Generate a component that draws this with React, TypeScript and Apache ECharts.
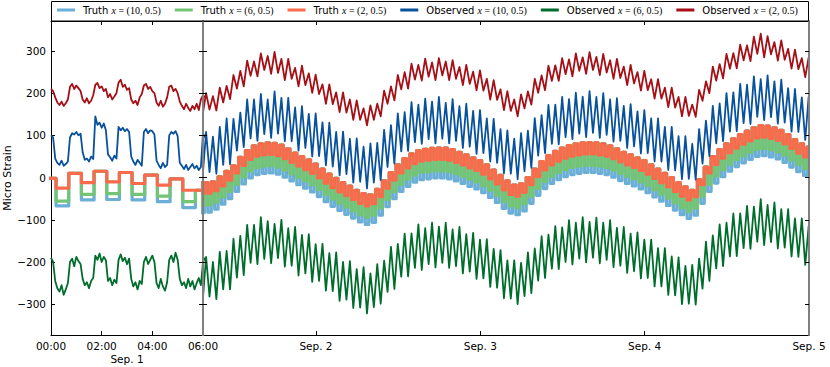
import React, { useEffect, useRef } from "react";
import * as echarts from "echarts";

// ---------- data ----------
// Truth: hourly plateaus. For hour k (starting at TRUTH_START_HOUR) the low phase is
// centred at k+0.45 h and the high phase at k+0.95 h (hours from Sep 1, 00:00).
const TRUTH_START_HOUR = -1;
const truthHigh = [
  -2, 10, 15, 12, 6, -3, -30, -12, -12, -10, 2, 15, 28, 48, 64, 75, 80, 82, 81, 77, 68, 58, 50, 42, 32, 20, 8, -2,
  -12, -20, -30, -38, -41, -28, -8, 12, 30, 45, 56, 64, 67, 69, 70, 70, 66, 60, 54, 47, 40, 30, 18, 5, -8, -18, -15,
  0, 20, 38, 52, 62, 70, 76, 80, 82, 83, 82, 80, 75, 68, 60, 54, 47, 40, 30, 20, 10, 0, -12, -22, -30, -5, 25, 50,
  66, 80, 92, 102, 110, 118, 123, 122, 118, 112, 102, 90, 80, 72,
];
const truthLowX2 = [
  -5, -25, -12, -10, -14, -18, -30, -40, -38, -37, -31, -20, -6, 11, 29, 43, 51, 54, 55, 52, 45, 36, 27, 19, 10, -1,
  -13, -24, -34, -43, -52, -61, -67, -62, -45, -25, -6, 11, 23, 33, 39, 41, 43, 43, 41, 36, 30, 23, 17, 8, -3, -15,
  -29, -40, -44, -35, -17, 2, 18, 30, 39, 46, 51, 54, 56, 56, 54, 51, 45, 37, 30, 24, 17, 8, -2, -12, -22, -33, -44,
  -53, -45, -17, 11, 31, 46, 59, 70, 79, 87, 94, 96, 93, 88, 80, 69, 58, 49,
];
const truthLowX6 = [
  -8, -56, -40, -38, -40, -44, -57, -68, -66, -65, -58, -46, -33, -16, 2, 16, 24, 27, 28, 25, 18, 9, 0, -8, -17, -28,
  -40, -51, -61, -70, -79, -88, -94, -89, -72, -52, -33, -16, -4, 6, 12, 14, 16, 16, 14, 9, 3, -4, -10, -19, -30,
  -42, -56, -67, -71, -62, -44, -25, -9, 3, 12, 19, 24, 27, 29, 29, 27, 24, 18, 10, 3, -3, -10, -19, -29, -39, -49,
  -60, -71, -80, -72, -44, -16, 4, 19, 32, 43, 52, 60, 67, 69, 66, 61, 53, 42, 31, 22,
];
const truthLowX10 = [
  -10, -67, -53, -52, -53, -57, -71, -85, -83, -82, -75, -63, -50, -33, -15, -1, 7, 10, 11, 8, 1, -8, -17, -25, -34,
  -45, -57, -68, -78, -87, -96, -105, -111, -106, -89, -69, -50, -33, -21, -11, -5, -3, -1, -1, -3, -8, -14, -21,
  -27, -36, -47, -59, -73, -84, -88, -79, -61, -42, -26, -14, -5, 2, 7, 10, 12, 12, 10, 7, 1, -7, -14, -20, -27, -36,
  -46, -56, -66, -77, -88, -97, -89, -61, -33, -13, 2, 15, 26, 35, 43, 50, 52, 49, 44, 36, 25, 14, 5,
];

// Observed, first 6 hours, one value every 5 minutes from 00:00
const LEFT_STEP_MIN = 5;
const leftObsX10 = [
  100, 95, 45, 35, 30, 40, 28, 32, 38, 95, 105, 102, 108, 100, 104, 60, 42, 45, 38, 50, 44, 145, 125, 130, 118, 128,
  112, 55, 48, 40, 52, 45, 120, 112, 118, 110, 115, 108, 50, 38, 30, 42, 35, 28, 108, 115, 105, 112, 110, 102, 40, 30,
  22, 35, 25, 30, 100, 108, 104, 110, 98, 35, 28, 20, 30, 18, 25, 32, 22, 28, 18, 25, 105, 95,
];
const leftObsX6 = [
  -190, -200, -245, -262, -270, -255, -278, -265, -250, -200, -192, -210, -188, -198, -205, -240, -255, -248, -262,
  -245, -238, -185, -195, -180, -200, -188, -196, -245, -238, -255, -242, -250, -195, -182, -198, -190, -205, -192,
  -240, -258, -248, -265, -245, -252, -200, -188, -205, -195, -185, -200, -250, -262, -240, -258, -268, -248, -195,
  -185, -200, -178, -195, -240, -255, -248, -262, -240, -258, -245, -265, -250, -238, -255, -200, -190,
];
const leftObsX2 = [
  210, 205, 190, 178, 172, 180, 170, 176, 185, 215, 222, 210, 218, 212, 205, 185, 178, 188, 176, 182, 195, 220, 224,
  212, 216, 205, 210, 190, 198, 185, 192, 200, 225, 232, 215, 220, 208, 212, 185, 176, 182, 172, 190, 198, 218, 222,
  210, 215, 205, 200, 178, 170, 182, 168, 175, 190, 215, 218, 205, 210, 200, 180, 170, 162, 175, 165, 158, 170, 162,
  175, 160, 185, 195, 190,
];

// Observed, rest of the record: per hour k (from RIGHT_START_HOUR) a low at k+0.45 h and a high at k+0.95 h
const RIGHT_START_HOUR = 7;
const rightObsX10High = [
  108, 97, 120, 140, 139, 154, 185, 185, 198, 185, 204, 189, 189, 166, 169, 151, 152, 131, 130, 108, 109, 92, 93, 73,
  81, 82, 113, 124, 152, 155, 179, 173, 187, 180, 191, 177, 186, 169, 175, 158, 160, 140, 139, 115, 112, 92, 105, 111,
  141, 148, 172, 173, 191, 186, 201, 192, 205, 191, 200, 185, 188, 170, 174, 157, 160, 140, 140, 120, 120, 98, 98, 80,
  115, 135, 170, 176, 200, 202, 222, 220, 240, 233, 242, 228, 232, 212, 210, 190, 192,
];
const rightObsX10Low = [
  3, 13, 9, 30, 32, 64, 72, 93, 87, 103, 94, 104, 86, 86, 64, 70, 50, 51, 29, 26, 5, 8, -12, -10, -26, -12, -6, 25,
  33, 62, 63, 84, 80, 91, 81, 92, 81, 87, 70, 73, 56, 58, 38, 35, 10, 9, -4, 15, 23, 52, 58, 80, 79, 96, 91, 104, 96,
  106, 94, 101, 85, 87, 70, 74, 57, 58, 38, 38, 18, 17, -4, -3, -5, 33, 51, 81, 86, 109, 110, 129, 127, 144, 136, 143,
  128, 130, 109, 108, 89,
];
const rightObsX6High = [
  -188, -200, -176, -174, -145, -138, -112, -112, -94, -103, -110, -100, -120, -117, -136, -134, -158, -157, -179,
  -177, -200, -198, -217, -212, -227, -205, -197, -164, -157, -133, -132, -111, -120, -107, -116, -107, -123, -117,
  -134, -131, -147, -146, -169, -172, -196, -196, -202, -177, -168, -139, -135, -115, -118, -101, -107, -94, -105, -95,
  -107, -101, -119, -117, -133, -130, -147, -147, -167, -167, -187, -189, -209, -207, -192, -152, -137, -111, -107,
  -85, -85, -67, -69, -51, -65, -59, -75, -75, -97, -97, -115,
];
const rightObsX6Low = [
  -294, -282, -288, -265, -265, -237, -231, -202, -205, -193, -203, -191, -211, -209, -232, -227, -247, -245, -268,
  -269, -292, -289, -309, -308, -322, -307, -299, -271, -264, -235, -234, -214, -219, -205, -213, -202, -214, -210,
  -227, -223, -240, -239, -259, -261, -286, -287, -300, -281, -274, -244, -238, -216, -217, -200, -206, -192, -201,
  -190, -203, -195, -212, -209, -226, -222, -239, -238, -258, -258, -278, -279, -300, -299, -301, -263, -245, -215,
  -210, -187, -186, -167, -169, -152, -160, -153, -168, -166, -187, -188, -207,
];
const rightObsX2High = [
  200, 193, 213, 217, 243, 253, 277, 275, 294, 288, 298, 281, 281, 260, 265, 247, 244, 221, 221, 202, 202, 185, 183,
  164, 171, 175, 206, 216, 243, 250, 270, 267, 282, 273, 283, 275, 278, 262, 267, 251, 254, 234, 231, 209, 205, 185,
  197, 204, 234, 242, 265, 266, 283, 280, 294, 285, 297, 286, 293, 278, 281, 263, 267, 250, 253, 233, 233, 213, 213,
  191, 191, 173, 208, 228, 263, 269, 293, 295, 315, 313, 334, 341, 335, 321, 325, 305, 303, 283, 285,
];
const rightObsX2Low = [
  149, 161, 159, 178, 186, 211, 216, 241, 240, 255, 246, 248, 231, 234, 216, 219, 201, 198, 175, 174, 155, 154, 137,
  137, 124, 137, 145, 175, 183, 209, 211, 232, 230, 239, 231, 242, 231, 234, 219, 222, 207, 206, 185, 184, 160, 158,
  145, 164, 173, 201, 207, 229, 229, 245, 240, 253, 246, 255, 243, 249, 234, 236, 219, 223, 206, 207, 187, 187, 167,
  166, 145, 146, 144, 182, 200, 230, 235, 258, 259, 278, 276, 293, 285, 292, 277, 279, 258, 257, 238,
];

const seriesNames = [
  "Truth (10, 0.5)",
  "Truth (6, 0.5)",
  "Truth (2, 0.5)",
  "Observed (10, 0.5)",
  "Observed (6, 0.5)",
  "Observed (2, 0.5)",
];
const yTickValues = [-300, -200, -100, 0, 100, 200, 300];
const leftTickHours = [0, 2, 4, 6];
const leftTickLabels = ["00:00", "02:00", "04:00", "06:00"];
const rightTickHours = [24, 48, 72, 96];
const rightTickLabels = ["Sep. 2", "Sep. 3", "Sep. 4", "Sep. 5"];
const leftDayLabel = "Sep. 1";

// ---------- styling ----------
const FONT = "DejaVu Sans";
const COLORS = ["#6baed6", "#74c476", "#fb6a4a", "#08519c", "#006d2c", "#a50f15"];
const GRAY = "#808080";

function truthPoints(low: number[]) {
  const pts: number[][] = [];
  for (let i = 0; i < truthHigh.length; i++) {
    const h = TRUTH_START_HOUR + i;
    pts.push([h + 0.45, low[i]], [h + 0.95, truthHigh[i]]);
  }
  return pts;
}
function leftPoints(arr: number[]) {
  return arr.map((v, i) => [(i * LEFT_STEP_MIN) / 60, v]);
}
function rightPoints(lo: number[], hi: number[]) {
  const pts: number[][] = [];
  for (let i = 0; i < lo.length; i++) {
    const h = RIGHT_START_HOUR + i;
    pts.push([h + 0.45, lo[i]], [h + 0.95, hi[i]]);
  }
  return pts;
}

function buildOption() {
  const truthData = [truthPoints(truthLowX10), truthPoints(truthLowX6), truthPoints(truthLowX2)];
  const leftObs = [leftPoints(leftObsX10), leftPoints(leftObsX6), leftPoints(leftObsX2)];
  const rightObs = [
    rightPoints(rightObsX10Low, rightObsX10High),
    rightPoints(rightObsX6Low, rightObsX6High),
    rightPoints(rightObsX2Low, rightObsX2High),
  ];

  const series: any[] = [];
  for (let g = 0; g < 2; g++) {
    const xi = g === 0 ? 0 : 2;
    const yi = g === 0 ? 0 : 2;
    for (let s = 0; s < 3; s++) {
      series.push({
        type: "line",
        name: seriesNames[s],
        xAxisIndex: xi,
        yAxisIndex: yi,
        data: truthData[s],
        step: "middle",
        showSymbol: false,
        symbol: "none",
        clip: true,
        color: COLORS[s],
        lineStyle: { color: COLORS[s], width: 3.2, join: "round" },
        z: 2,
      });
    }
  }
  for (let g = 0; g < 2; g++) {
    const xi = g === 0 ? 0 : 2;
    const yi = g === 0 ? 0 : 2;
    for (let s = 0; s < 3; s++) {
      series.push({
        type: "line",
        name: seriesNames[3 + s],
        xAxisIndex: xi,
        yAxisIndex: yi,
        data: g === 0 ? leftObs[s] : rightObs[s],
        showSymbol: false,
        symbol: "none",
        clip: true,
        color: COLORS[3 + s],
        lineStyle: { color: COLORS[3 + s], width: 1.8, join: "round" },
        z: 3,
      });
    }
  }

  const labelStyle = { fontFamily: FONT, fontSize: 10.5, color: "#000" };
  const tickIn = (vals: number[], show = true) => ({
    show,
    inside: true,
    length: 4,
    customValues: vals,
    lineStyle: { color: "#000", width: 1 },
  });
  const fmtY = (v: number) => (v < 0 ? "\u2212" + Math.abs(v) : String(v));

  return {
    animation: false,
    backgroundColor: "#fff",
    textStyle: { fontFamily: FONT },
    grid: [
      { left: 51, top: 21, width: 152, height: 314 },
      { left: 203, top: 21, width: 606, height: 314 },
    ],
    legend: {
      data: seriesNames,
      left: 57,
      top: 5,
      padding: 0,
      icon: "rect",
      itemWidth: 18,
      itemHeight: 3,
      itemGap: 14,
      selectedMode: false,
      textStyle: {
        fontFamily: FONT,
        fontSize: 10,
        color: "#000",
        rich: {
          w: { fontFamily: FONT, fontSize: 10, color: "#000", padding: [0, 0, 0, 3] },
          i: { fontFamily: "Liberation Serif", fontStyle: "italic", fontSize: 10, color: "#000" },
          m: { fontFamily: "Liberation Serif", fontSize: 10, color: "#000" },
        },
      },
      formatter: (name: string) => {
        const idx = name.indexOf(" ");
        const word = name.slice(0, idx);
        const rest = name.slice(idx + 1);
        return `{w|${word}} {i|x}{m| = ${rest}}`;
      },
    },
    xAxis: [
      {
        type: "value",
        gridIndex: 0,
        position: "bottom",
        min: 0,
        max: 6,
        axisLine: { onZero: false, lineStyle: { color: "#000", width: 1 } },
        axisTick: tickIn([2, 4]),
        axisLabel: {
          ...labelStyle,
          margin: 5,
          customValues: leftTickHours,
          formatter: (v: number) => leftTickLabels[leftTickHours.indexOf(v)] ?? "",
        },
        splitLine: { show: false },
      },
      {
        type: "value",
        gridIndex: 0,
        position: "top",
        min: 0,
        max: 6,
        axisLine: { onZero: false, lineStyle: { color: "#000", width: 1 } },
        axisTick: tickIn([2, 4]),
        axisLabel: { show: false },
        splitLine: { show: false },
      },
      {
        type: "value",
        gridIndex: 1,
        position: "bottom",
        min: 7.5,
        max: 96,
        axisLine: { onZero: false, lineStyle: { color: "#000", width: 1 } },
        axisTick: tickIn([24, 48, 72]),
        axisLabel: {
          ...labelStyle,
          margin: 5,
          customValues: rightTickHours,
          formatter: (v: number) => rightTickLabels[rightTickHours.indexOf(v)] ?? "",
        },
        splitLine: { show: false },
      },
      {
        type: "value",
        gridIndex: 1,
        position: "top",
        min: 7.5,
        max: 96,
        axisLine: { onZero: false, lineStyle: { color: "#000", width: 1 } },
        axisTick: tickIn([24, 48, 72]),
        axisLabel: { show: false },
        splitLine: { show: false },
      },
    ],
    yAxis: [
      {
        type: "value",
        gridIndex: 0,
        position: "left",
        min: -373,
        max: 371,
        axisLine: { show: true, onZero: false, lineStyle: { color: "#000", width: 1 } },
        axisTick: tickIn(yTickValues),
        axisLabel: { ...labelStyle, margin: 5, customValues: yTickValues, formatter: fmtY },
        splitLine: { show: false },
        name: "Micro Strain",
        nameLocation: "middle",
        nameGap: 34,
        nameTextStyle: { fontFamily: FONT, fontSize: 11, color: "#000" },
      },
      {
        type: "value",
        gridIndex: 0,
        position: "right",
        min: -373,
        max: 371,
        z: 5,
        axisLine: { show: true, onZero: false, lineStyle: { color: GRAY, width: 2 } },
        axisTick: tickIn(yTickValues),
        axisLabel: { show: false },
        splitLine: { show: false },
      },
      {
        type: "value",
        gridIndex: 1,
        position: "left",
        min: -373,
        max: 371,
        z: 5,
        axisLine: { show: true, onZero: false, lineStyle: { color: GRAY, width: 2 } },
        axisTick: tickIn(yTickValues),
        axisLabel: { show: false },
        splitLine: { show: false },
      },
      {
        type: "value",
        gridIndex: 1,
        position: "right",
        min: -373,
        max: 371,
        z: 5,
        axisLine: { show: true, onZero: false, lineStyle: { color: GRAY, width: 2 } },
        axisTick: tickIn(yTickValues),
        axisLabel: { show: false },
        splitLine: { show: false },
      },
    ],
    graphic: [
      {
        type: "rect",
        shape: { x: 51.5, y: 1.5, width: 757, height: 19.5 },
        style: { fill: "none", stroke: "#000", lineWidth: 1 },
        silent: true,
        z: 10,
      },
      {
        type: "text",
        x: 127,
        y: 359,
        style: {
          text: leftDayLabel,
          fontFamily: FONT,
          fontSize: 10.5,
          fill: "#000",
          align: "center",
          verticalAlign: "middle",
        },
        silent: true,
      },
    ],
    series,
  };
}

export default function App() {
  const ref = useRef<HTMLDivElement>(null);
  useEffect(() => {
    if (!ref.current) return;
    const chart = echarts.init(ref.current, null, { renderer: "svg" });
    chart.setOption(buildOption() as any);
    return () => chart.dispose();
  }, []);
  return (
    <div
      ref={ref}
      style={{ position: "fixed", left: 0, top: 0, width: 830, height: 367, background: "#fff" }}
    />
  );
}
